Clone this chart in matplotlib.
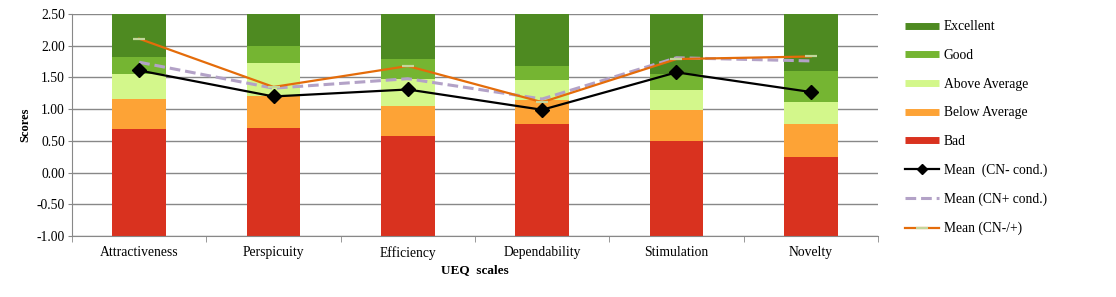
import numpy as np
import matplotlib.pyplot as plt
from matplotlib.lines import Line2D

# =================
# data
# =================
categories = ['Attractiveness', 'Perspicuity', 'Efficiency', 'Dependability', 'Stimulation', 'Novelty']

# upper bounds of the benchmark bands (bars start at -1)
bad_top = [0.69, 0.70, 0.57, 0.77, 0.50, 0.25]
below_top = [1.16, 1.20, 1.05, 1.14, 0.99, 0.77]
above_top = [1.56, 1.73, 1.48, 1.46, 1.30, 1.11]
good_top = [1.82, 2.00, 1.79, 1.68, 1.55, 1.60]
excellent_top = [2.50, 2.50, 2.50, 2.50, 2.50, 2.50]

mean_cn_minus = [1.61, 1.20, 1.31, 0.99, 1.58, 1.27]
mean_cn_plus = [1.74, 1.33, 1.48, 1.16, 1.81, 1.76]
mean_cn_both = [2.11, 1.35, 1.68, 1.11, 1.79, 1.83]

band_names = ['Excellent', 'Good', 'Above Average', 'Below Average', 'Bad']
band_colors = ['#4e8a21', '#75b532', '#d3f78b', '#fda336', '#d9321f']

plt.rcParams['font.family'] = ['Liberation Serif', 'DejaVu Serif']

fig = plt.figure(figsize=(11.16, 2.97), dpi=100)
ax = fig.add_axes([72/1116, 1-236/297, 806/1116, 222/297])

x = np.arange(len(categories))
w = 0.4
base = -1.0

# stacked bands, bottom to top
tops = [bad_top, below_top, above_top, good_top, excellent_top]
cols = band_colors[::-1]
bottom = np.full(len(categories), base)
for t, c in zip(tops, cols):
    t = np.array(t)
    ax.bar(x, t - bottom, w, bottom=bottom, color=c, zorder=2)
    bottom = t

# mean lines
ax.plot(x, mean_cn_plus, color='#b3a2c7', lw=2.2, ls=(0, (3.5, 1.6)), zorder=3)
ax.plot(x, mean_cn_both, color='#e46c0a', lw=1.6, marker='_', ms=9,
        mec='#c3d69b', mew=1.6, zorder=4)
ax.plot(x, mean_cn_minus, color='black', lw=1.6, marker='D', ms=7, zorder=5)

ax.set_xlim(-0.5, 5.5)
ax.set_ylim(-1.0, 2.5)
ax.set_yticks(np.arange(-1.0, 2.51, 0.5))
ax.set_yticklabels(['%.2f' % v for v in np.arange(-1.0, 2.51, 0.5)], fontsize=9.8)
ax.set_xticks(x)
ax.set_xticklabels(categories, fontsize=9.8)
ax.set_xticks(np.arange(-0.5, 6.0, 1.0), minor=True)
ax.tick_params(axis='x', which='major', length=0, pad=7)
ax.tick_params(axis='x', which='minor', length=4, color='#888888')
ax.tick_params(axis='y', length=3, color='#888888', pad=2)
ax.yaxis.grid(True, color='#888888', lw=1, zorder=0)
ax.set_axisbelow(True)
for s in ['top', 'right']:
    ax.spines[s].set_visible(False)
ax.spines['left'].set_color('#888888')
ax.spines['bottom'].set_color('#888888')

ax.set_ylabel('Scores', fontsize=9, fontweight='bold', labelpad=4)
ax.set_xlabel('UEQ  scales', fontsize=9.5, fontweight='bold', labelpad=3)

# legend
handles = [Line2D([], [], color=c, lw=5, solid_capstyle='butt') for c in band_colors]
handles.append(Line2D([], [], color='black', lw=1.6, marker='D', ms=5))
handles.append(Line2D([], [], color='#b3a2c7', lw=2.2, ls=(0, (3.5, 1.6))))
handles.append(Line2D([], [], color='#e46c0a', lw=1.6, marker='_', ms=9,
                      mec='#c3d69b', mew=1.6))
labels = band_names + ['Mean  (CN- cond.)', 'Mean (CN+ cond.)', 'Mean (CN-/+)']
fig.legend(handles, labels, loc='upper left', bbox_to_anchor=(900/1116, 1-15/297),
           frameon=False, fontsize=9.8, handlelength=2.5, handletextpad=0.3,
           labelspacing=1.15, borderaxespad=0)

fig.savefig('out.png', dpi=100)
